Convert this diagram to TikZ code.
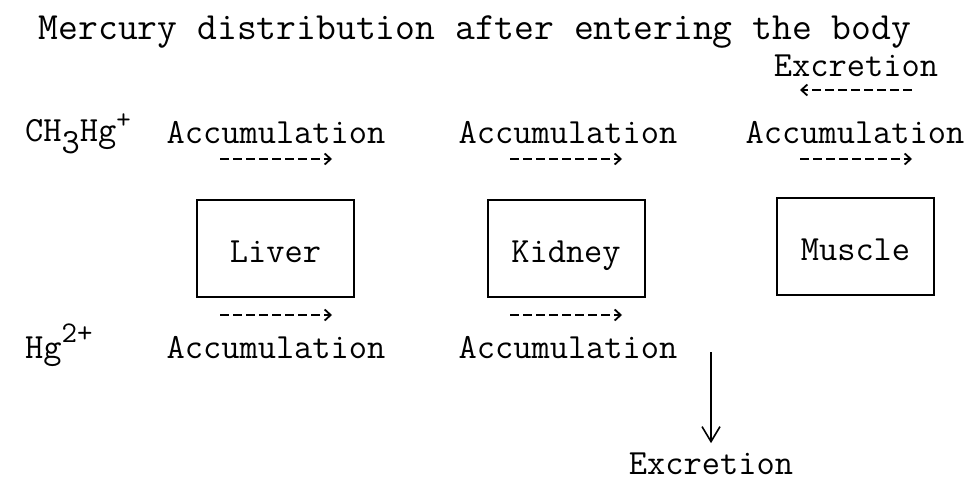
\documentclass[tikz,border=0pt]{standalone}
\usepackage{fontspec}
\usetikzlibrary{arrows.meta}
\tikzset{
  lbl/.style={anchor=base, inner sep=0pt, font=\ttfamily\fontsize{35.4}{35.4}\selectfont},
  ttl/.style={anchor=base, inner sep=0pt, font=\ttfamily\fontsize{38.5}{38.5}\selectfont},
  organ/.style={draw, line width=2pt, minimum width=157pt, minimum height=97pt, inner sep=0pt,
    text height=30pt, text depth=3pt, font=\ttfamily\fontsize{35.4}{35.4}\selectfont},
  dasharrow/.style={line width=2.2pt, dash pattern=on 9pt off 4pt, -{Straight Barb[length=6pt,width=11pt,line width=1.8pt]}},
  solidarrow/.style={line width=1.6pt, -{Straight Barb[length=15pt,width=18pt,line width=1.6pt]}}
}
\begin{document}
\begin{tikzpicture}[x=1pt,y=-1pt]
\useasboundingbox (0,0) rectangle (975,482);
% title
\node[ttl] (title) at (475,39) {Mercury distribution after entering the body};
% species labels
\node[lbl, anchor=base west] (ch3) at (25,141) {CH\raisebox{-0.35em}{3}Hg\raisebox{0.35em}{\fontsize{28}{28}\selectfont+}};
\node[lbl, anchor=base west] (hg) at (25,358) {Hg\raisebox{0.45em}{\fontsize{30}{30}\selectfont 2+}};
% top row labels
\node[lbl] (excT) at (856,76) {Excretion};
\node[lbl] (acc1) at (276,143) {Accumulation};
\node[lbl] (acc2) at (568,143) {Accumulation};
\node[lbl] (acc3) at (855,143) {Accumulation};
% boxes
\node[organ] (liver) at (275.5,248.5) {Liver};
\node[organ] (kidney) at (566,248.5) {Kidney};
\node[organ] (muscle) at (855.5,246.5) {Muscle};
% bottom row labels
\node[lbl] (acc4) at (276,358) {Accumulation};
\node[lbl] (acc5) at (568,358) {Accumulation};
\node[lbl] (excB) at (711,474) {Excretion};
% arrow end coordinates
\coordinate (eA) at (912,90);  \coordinate (eB) at (800,90);
\coordinate (a1s) at (220,159); \coordinate (a1e) at (332,159);
\coordinate (a2s) at (510,159); \coordinate (a2e) at (622,159);
\coordinate (a3s) at (800,159); \coordinate (a3e) at (912,159);
\coordinate (b1s) at (220,315); \coordinate (b1e) at (332,315);
\coordinate (b2s) at (510,315); \coordinate (b2e) at (622,315);
\coordinate (vs) at (711,352);
% arrows
\draw[dasharrow] (eA) -- (eB);
\draw[dasharrow] (a1s) -- (a1e);
\draw[dasharrow] (a2s) -- (a2e);
\draw[dasharrow] (a3s) -- (a3e);
\draw[dasharrow] (b1s) -- (b1e);
\draw[dasharrow] (b2s) -- (b2e);
\draw[solidarrow] (vs) -- ([yshift=9pt]excB.north);
\end{tikzpicture}
\end{document}
